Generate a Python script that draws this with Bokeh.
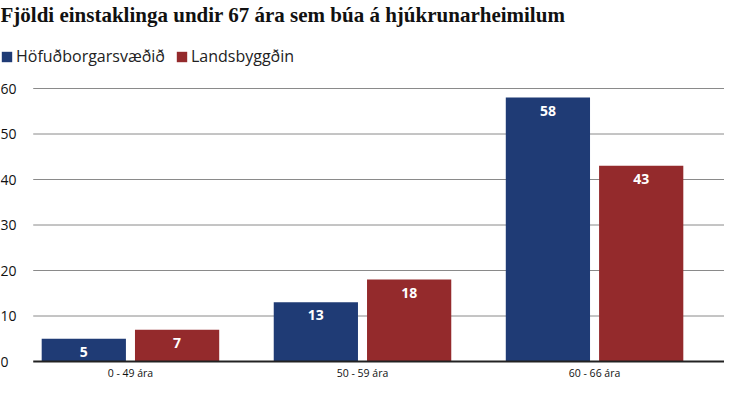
from bokeh.plotting import figure
from bokeh.models import (ColumnDataSource, FactorRange, Legend, LegendItem, LabelSet,
                          Label, Range1d)
from bokeh.transform import dodge
from bokeh.core.properties import value
from bokeh.embed import file_html
from bokeh.resources import INLINE

title_text = "Fjöldi einstaklinga undir 67 ára sem búa á hjúkrunarheimilum"
categories = ["0 - 49 ára", "50 - 59 ára", "60 - 66 ára"]
series_names = ["Höfuðborgarsvæðið", "Landsbyggðin"]
hofudborg = [5, 13, 58]
landsbyggd = [7, 18, 43]
y_ticks = [0, 10, 20, 30, 40, 50, 60]

blue = "#1f3b75"
red = "#942a2c"

W, H = 724, 381
PX_PER_UNIT = 4.55
TOP_PX = 88      # space above the top grid line
BOTTOM_PX = 20   # space below the baseline (category labels)
y_start = y_ticks[0] - BOTTOM_PX / PX_PER_UNIT
y_end = y_ticks[-1] + TOP_PX / PX_PER_UNIT

PAD = 0.06
p = figure(
    width=W, height=H,
    x_range=FactorRange(factors=categories, range_padding=PAD,
                        range_padding_units="absolute"),
    y_range=Range1d(y_start, y_end),
    x_axis_location=None, y_axis_location=None,
    output_backend="svg", toolbar_location=None,
    min_border_left=0, min_border_right=0, min_border_top=0, min_border_bottom=0,
)
p.outline_line_color = None
p.xgrid.grid_line_color = None
p.ygrid.grid_line_color = None

GRID_START = -0.419
GRID_END = 0.5 + PAD

# grid lines (start right of the value labels)
n = len(y_ticks)
grid_src = ColumnDataSource(dict(y=y_ticks[1:], x0=[categories[0]] * (n - 1),
                                 x1=[categories[-1]] * (n - 1)))
p.segment(x0=dodge("x0", GRID_START, range=p.x_range), x1=dodge("x1", GRID_END, range=p.x_range),
          y0="y", y1="y", source=grid_src, line_color="#8a8a8a", line_width=1)

# value-axis labels on the left
lab_src = ColumnDataSource(dict(y=y_ticks, t=[str(v) for v in y_ticks]))
p.add_layout(LabelSet(x=0, y="y", x_units="screen", text="t", source=lab_src,
                      text_align="left", text_baseline="middle",
                      text_font=value("Open Sans"), text_font_size="14px",
                      text_color="#111111"))

src = ColumnDataSource(dict(
    cat=categories,
    h=hofudborg,
    l=landsbyggd,
    hs=[str(v) for v in hofudborg],
    ls=[str(v) for v in landsbyggd],
))

off = 0.201
w = 0.363
rb = p.vbar(x=dodge("cat", -off, range=p.x_range), top="h", width=w, source=src,
            fill_color=blue, line_color=None)
rr = p.vbar(x=dodge("cat", off, range=p.x_range), top="l", width=w, source=src,
            fill_color=red, line_color=None)

for col, txt, dx in (("h", "hs", -off), ("l", "ls", off)):
    p.add_layout(LabelSet(x=dodge("cat", dx, range=p.x_range), y=col, text=txt, source=src,
                          text_align="center", text_baseline="middle", y_offset=-13,
                          text_color="white", text_font=value("Open Sans"),
                          text_font_style="bold", text_font_size="14px"))

# baseline
base_src = ColumnDataSource(dict(y=y_ticks[:1], x0=categories[:1], x1=categories[-1:]))
p.segment(x0=dodge("x0", GRID_START, range=p.x_range), x1=dodge("x1", GRID_END, range=p.x_range),
          y0="y", y1="y", source=base_src, line_color="#222222", line_width=2)

# category labels under the baseline
p.add_layout(LabelSet(x="cat", y=y_ticks[0], text="cat", source=src,
                      text_align="center", text_baseline="middle", y_offset=-11,
                      text_font=value("Open Sans"), text_font_size="10.5px",
                      text_color="#111111"))

# title and legend
p.add_layout(Label(x=0, y=H - 2, x_units="screen", y_units="screen",
                   text=title_text, text_font="Liberation Serif",
                   text_font_style="bold", text_font_size="21px",
                   text_color="#111111", text_baseline="top"))

legend = Legend(items=[LegendItem(label=series_names[0], renderers=[rb]),
                       LegendItem(label=series_names[1], renderers=[rr])],
                orientation="horizontal", location=(0, H - 67),
                label_text_font="Open Sans", label_text_font_size="16px",
                label_text_color="#222222",
                glyph_width=13, glyph_height=13, label_standoff=3, spacing=10,
                padding=0, margin=0, border_line_color=None,
                background_fill_alpha=0)
p.add_layout(legend)

open("out.html", "w").write(file_html(p, INLINE))
